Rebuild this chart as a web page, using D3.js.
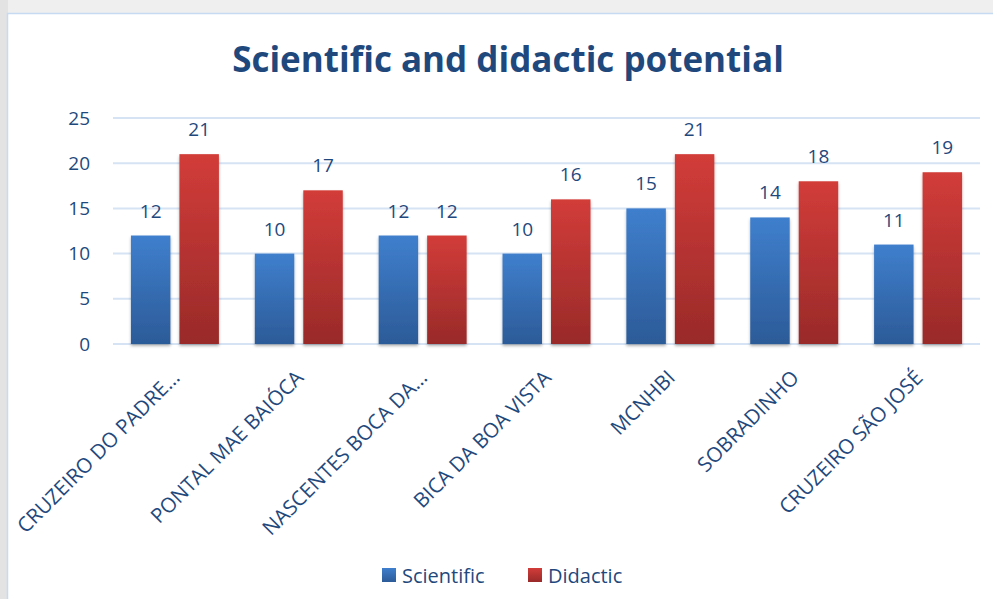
<html>
  <meta charset="utf-8" />
  <script src="https://d3js.org/d3.v7.min.js"></script>
  <style>
    body { margin: 0; background: #efefef; }
    text { font-family: "Open Sans", sans-serif; fill: #1f497d; }
  </style>
  <body>
    <svg width="993" height="599" id="chart"></svg>

    <script>
      // chart data
      const categories = [
        "CRUZEIRO DO PADRE…",
        "PONTAL MAE BAIÓCA",
        "NASCENTES BOCA DA…",
        "BICA DA BOA VISTA",
        "MCNHBI",
        "SOBRADINHO",
        "CRUZEIRO SÃO JOSÉ",
      ];
      const seriesNames = ["Scientific", "Didactic"];
      const scientific = [12, 10, 12, 10, 15, 14, 11];
      const didactic = [21, 17, 12, 16, 21, 18, 19];
      const yTicks = [0, 5, 10, 15, 20, 25];

      const values = { Scientific: scientific, Didactic: didactic };
      const colors = {
        Scientific: ["#3f7fcd", "#2c5b98"],
        Didactic: ["#d23c39", "#992a29"],
      };

      const svg = d3.select("#chart");
      const defs = svg.append("defs");

      seriesNames.forEach((s) => {
        const g = defs
          .append("linearGradient")
          .attr("id", "grad-" + s)
          .attr("x1", 0)
          .attr("y1", 0)
          .attr("x2", 0)
          .attr("y2", 1);
        g.append("stop").attr("offset", "0%").attr("stop-color", colors[s][0]);
        g.append("stop").attr("offset", "100%").attr("stop-color", colors[s][1]);
      });

      const shadow = defs
        .append("filter")
        .attr("id", "shadow")
        .attr("x", "-20%")
        .attr("y", "-10%")
        .attr("width", "140%")
        .attr("height", "130%");
      shadow
        .append("feDropShadow")
        .attr("dx", 0)
        .attr("dy", 2)
        .attr("stdDeviation", 1.5)
        .attr("flood-color", "#000")
        .attr("flood-opacity", 0.3);

      // frame
      svg
        .append("rect")
        .attr("x", 0)
        .attr("y", 0)
        .attr("width", 8)
        .attr("height", 599)
        .attr("fill", "#e3e3e3");
      svg
        .append("rect")
        .attr("x", 7.5)
        .attr("y", 13.5)
        .attr("width", 1000)
        .attr("height", 600)
        .attr("fill", "#ffffff")
        .attr("stroke", "#c6daf1")
        .attr("stroke-width", 1.5);

      const plotLeft = 113,
        plotRight = 980,
        plotTop = 118,
        plotBottom = 344;

      const x0 = d3.scaleBand().domain(categories).range([plotLeft, plotRight]);
      const x1 = d3
        .scaleBand()
        .domain(seriesNames)
        .range([0, x0.bandwidth()])
        .paddingInner(0.186)
        .paddingOuter(0.37);
      const y = d3.scaleLinear().domain([0, 25]).range([plotBottom, plotTop]);

      // gridlines
      svg
        .append("g")
        .selectAll("line")
        .data(yTicks)
        .join("line")
        .attr("x1", plotLeft)
        .attr("x2", plotRight)
        .attr("y1", (d) => y(d))
        .attr("y2", (d) => y(d))
        .attr("stroke", "#d6e3f4")
        .attr("stroke-width", 2);

      // y axis labels
      const yAxis = svg
        .append("g")
        .attr("transform", `translate(${plotLeft - 23},0)`)
        .call(d3.axisLeft(y).tickValues(yTicks).tickSize(0).tickPadding(0));
      yAxis.select(".domain").remove();
      yAxis
        .selectAll("text")
        .attr("font-size", 19)
        .attr("fill", "#1f497d")
        .style("font-family", "Open Sans, sans-serif");

      // bars
      const groups = svg
        .append("g")
        .selectAll("g")
        .data(categories)
        .join("g")
        .attr("transform", (d) => `translate(${x0(d)},0)`);

      seriesNames.forEach((s) => {
        groups
          .append("rect")
          .attr("x", x1(s))
          .attr("width", x1.bandwidth())
          .attr("y", (d, i) => y(values[s][i]))
          .attr("height", (d, i) => y(0) - y(values[s][i]))
          .attr("fill", `url(#grad-${s})`)
          .attr("filter", "url(#shadow)");

        groups
          .append("text")
          .attr("x", x1(s) + x1.bandwidth() / 2)
          .attr("y", (d, i) => y(values[s][i]) - 18)
          .attr("text-anchor", "middle")
          .attr("font-size", 19)
          .text((d, i) => values[s][i]);
      });

      // category labels
      svg
        .append("g")
        .selectAll("text")
        .data(categories)
        .join("text")
        .attr(
          "transform",
          (d) =>
            `translate(${x0(d) + x0.bandwidth() / 2 + 6},379) rotate(-45)`
        )
        .attr("text-anchor", "end")
        .attr("font-size", 20.5)
        .text((d) => d);

      // title
      svg
        .append("text")
        .attr("x", 508)
        .attr("y", 72)
        .attr("text-anchor", "middle")
        .attr("font-size", 35)
        .attr("font-weight", "bold")
        .text("Scientific and didactic potential");

      // legend
      const legend = svg
        .append("g")
        .selectAll("g")
        .data(seriesNames)
        .join("g")
        .attr("transform", (d, i) => `translate(${382 + i * 146},568)`);
      legend
        .append("rect")
        .attr("width", 14)
        .attr("height", 14)
        .attr("fill", (d) => `url(#grad-${d})`);
      legend
        .append("text")
        .attr("x", 20)
        .attr("y", 14.5)
        .attr("font-size", 20)
        .text((d) => d);
    </script>
  </body>
</html>
